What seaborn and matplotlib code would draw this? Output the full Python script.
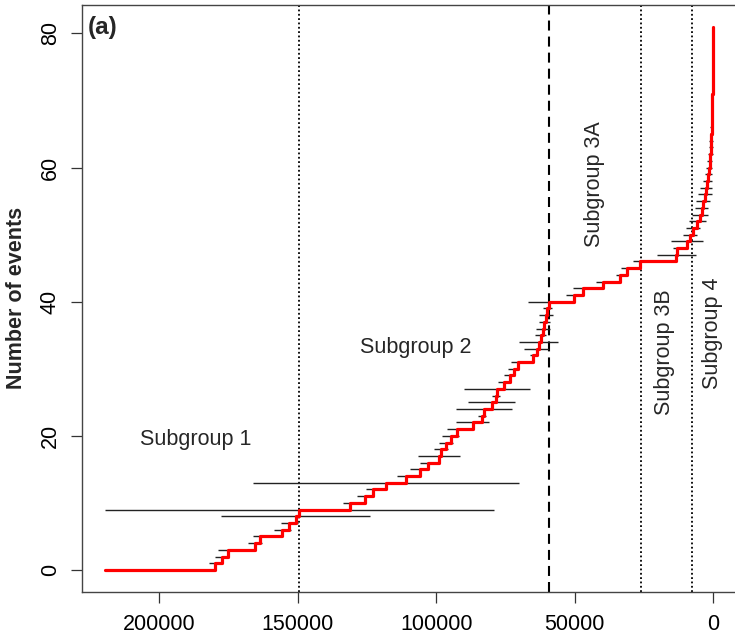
import numpy as np
import pandas as pd
import seaborn as sns
import matplotlib
matplotlib.use('Agg')
import matplotlib.pyplot as plt

# event ages (years before present), oldest first -> cumulative count 1..n
event_age = [179700, 177300, 175200, 165300, 163600, 155500, 152900, 150700, 149300, 131000,
             125500, 122800, 118200, 111000, 106000, 103000, 99000, 98200, 96600, 94800,
             92600, 86800, 83400, 82700, 80000, 78500, 78000, 75600, 73500, 72000,
             70600, 65200, 63700, 63000, 62300, 61600, 61000, 60400, 59900, 59400,
             50300, 47200, 39800, 33800, 31200, 26600, 13400, 13200, 9700, 8500,
             7400, 5800, 4900, 4300, 3700, 3200, 2700, 2200, 1900, 1600,
             1350, 1150, 1000, 880, 780, 690, 610, 540, 480, 430,
             380, 330, 290, 250, 210, 175, 140, 110, 80, 50, 20]
# half width of the age uncertainty bars
age_err = [2200, 2500, 3300, 2500, 2500, 3000, 3000, 27000, 70000, 2500,
           3000, 2500, 48000, 3000, 3500, 3000, 7600, 2500, 2500, 3000,
           3500, 6000, 1500, 10000, 8500, 1500, 12000, 2000, 2000, 2000,
           2500, 1000, 4500, 7000, 2000, 2500, 2000, 2500, 1500, 7600,
           3000, 3500, 2500, 1500, 2000, 2500, 7000, 1500, 5800, 2500,
           2500, 3000, 3000, 2500, 2500, 2500, 2000, 1500, 1200, 1000,
           900, 800, 700, 600, 500, 400, 400, 400, 400, 400,
           300, 300, 300, 300, 300, 200, 200, 200, 200, 200, 200]
start_age = 219300

boundary_age = [149300, 59400, 26200, 7800]
boundary_style = ['dotted', 'dashed', 'dotted', 'dotted']

group_names = ['Subgroup 1', 'Subgroup 2', 'Subgroup 3A', 'Subgroup 3B', 'Subgroup 4']
group_x = [186600, 107500, 42800, 17500, 300]
group_y = [19.4, 33.2, 57.5, 32.5, 35.3]
group_rot = [0, 0, 90, 90, 90]

count = np.arange(1, len(event_age) + 1)
df = pd.DataFrame({'age': [start_age] + event_age, 'n': np.concatenate([[0], count])})

sns.set_style('ticks')
plt.rcParams['font.family'] = ['Liberation Sans', 'DejaVu Sans']

fig = plt.figure(figsize=(7.35, 6.4), dpi=100)
ax = fig.add_axes([0.1109, 0.0755, 0.8928, 0.9167])

ev = np.array(event_age)
er = np.array(age_err)
ax.hlines(count, ev - er, ev + er, color='#222222', lw=1.0, zorder=2)

sns.lineplot(data=df, x='age', y='n', sort=False, estimator=None,
             drawstyle='steps-post', color='#ff0000', lw=2.3, ax=ax, zorder=3)

dash = {'dotted': (0, (1, 1.4)), 'dashed': (0, (4.8, 2.9))}
lws = {'dotted': 1.3, 'dashed': 1.5}
for a, s in zip(boundary_age, boundary_style):
    ax.axvline(a, color='black', ls=dash[s], lw=lws[s], zorder=1)

for name, x, y, r in zip(group_names, group_x, group_y, group_rot):
    ax.text(x, y, name, rotation=r, ha='center', va='center', fontsize=15.5)

ax.text(0.0099, 0.961, '(a)', transform=ax.transAxes, ha='left', va='center',
        fontsize=17.5, fontweight='bold')

ax.set_xlim(227900, -8740)
ax.set_ylim(-3.24, 84.24)
ax.set_xticks([200000, 150000, 100000, 50000, 0])
ax.set_xticklabels(['200000', '150000', '100000', '50000', '0'])
ax.set_yticks([0, 20, 40, 60, 80])
ax.tick_params(axis='both', direction='out', length=8, width=0.9, colors='#333333',
               labelsize=15.5, labelcolor='black')
ax.tick_params(axis='x', pad=8)
ax.tick_params(axis='y', pad=7)
for lab in ax.get_yticklabels():
    lab.set_rotation(90)
    lab.set_va('center')
ax.set_xlabel('')
ax.set_ylabel('Number of events', fontsize=15.5, fontweight='bold', labelpad=9)
for sp in ax.spines.values():
    sp.set_color('#444444')
    sp.set_linewidth(1.0)

plt.savefig('out.png', dpi=100)
